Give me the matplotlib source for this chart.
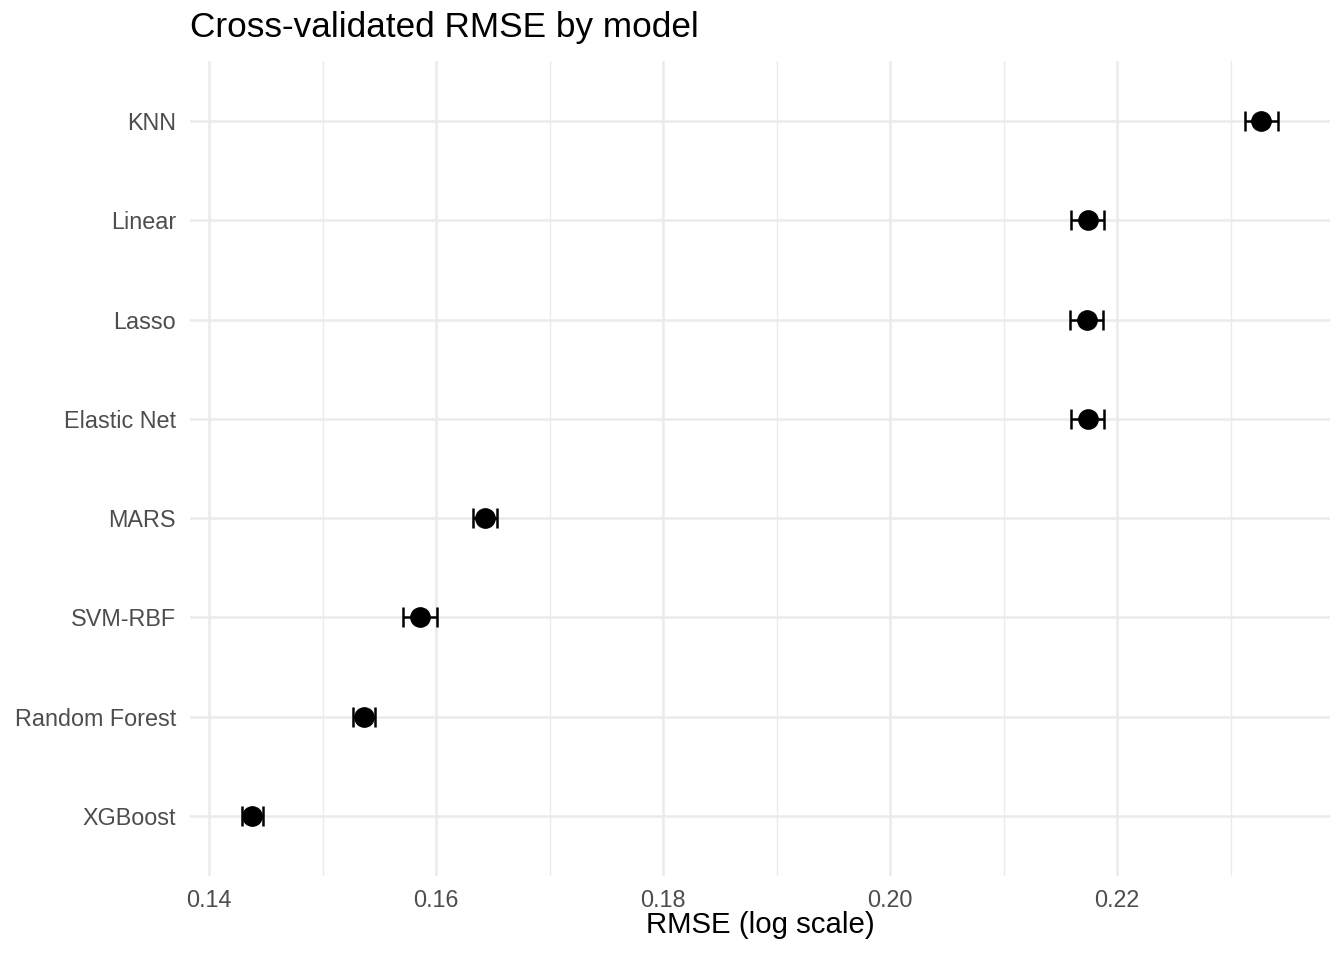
import numpy as np
import matplotlib
matplotlib.use("Agg")
import matplotlib.pyplot as plt
from matplotlib.ticker import MultipleLocator, FormatStrFormatter

# cross-validated RMSE per model, mean and standard error
MODELS = ["XGBoost", "Random Forest", "SVM-RBF", "MARS",
          "Elastic Net", "Lasso", "Linear", "KNN"]
RMSE_MEAN = [0.1438, 0.1536, 0.1586, 0.1643, 0.2174, 0.2173, 0.2174, 0.2327]
RMSE_SE = [0.00093, 0.00097, 0.0015, 0.00107, 0.00144, 0.00144, 0.00144, 0.00148]

FONT = "Liberation Sans"
GRID = "#EBEBEB"
W_PX, H_PX, DPI = 1344, 960, 100


def main():
    plt.rcParams["font.family"] = [FONT, "DejaVu Sans"]

    fig = plt.figure(figsize=(W_PX / DPI, H_PX / DPI), dpi=DPI)
    # panel box in pixels: x 190..1330, y 61..876
    ax = fig.add_axes([190 / W_PX, 1 - 875.6 / H_PX,
                       1140 / W_PX, (875.6 - 61.4) / H_PX])

    y = np.arange(len(MODELS))
    mean = np.array(RMSE_MEAN)
    se = np.array(RMSE_SE)

    ax.errorbar(mean, y, xerr=se, fmt="none", ecolor="black",
                elinewidth=1.8, capsize=7.2, capthick=1.8, zorder=3)
    ax.plot(mean, y, "o", color="black", markersize=13.9, zorder=4)

    # ggplot-like 5% expansion on x, 0.6 on discrete y
    lo, hi = (mean - se).min(), (mean + se).max()
    pad = 0.05 * (hi - lo)
    ax.set_xlim(lo - pad, hi + pad)
    ax.set_ylim(-0.6, len(MODELS) - 0.4)

    ax.set_yticks(y)
    ax.set_yticklabels(MODELS)
    ax.xaxis.set_major_locator(MultipleLocator(0.02))
    ax.xaxis.set_minor_locator(MultipleLocator(0.01))
    ax.xaxis.set_major_formatter(FormatStrFormatter("%.2f"))

    ax.grid(True, which="major", axis="both", color=GRID, linewidth=1.8, zorder=0)
    ax.grid(True, which="minor", axis="x", color=GRID, linewidth=0.95, zorder=0)
    ax.set_axisbelow(True)
    for s in ax.spines.values():
        s.set_visible(False)

    ax.tick_params(axis="both", which="both", length=0, labelsize=16.8,
                   labelcolor="#4D4D4D")
    ax.tick_params(axis="y", pad=10)
    ax.tick_params(axis="x", pad=10)

    fig.text(760 / W_PX, 1 - 932.7 / H_PX, "RMSE (log scale)",
             ha="center", va="baseline", fontsize=21.2, color="black")
    fig.text(190 / W_PX, 1 - 37.3 / H_PX, "Cross-validated RMSE by model",
             ha="left", va="baseline", fontsize=25.3, color="black")

    fig.savefig("out.png", dpi=DPI, facecolor="white")
    plt.close(fig)


if __name__ == "__main__":
    main()
